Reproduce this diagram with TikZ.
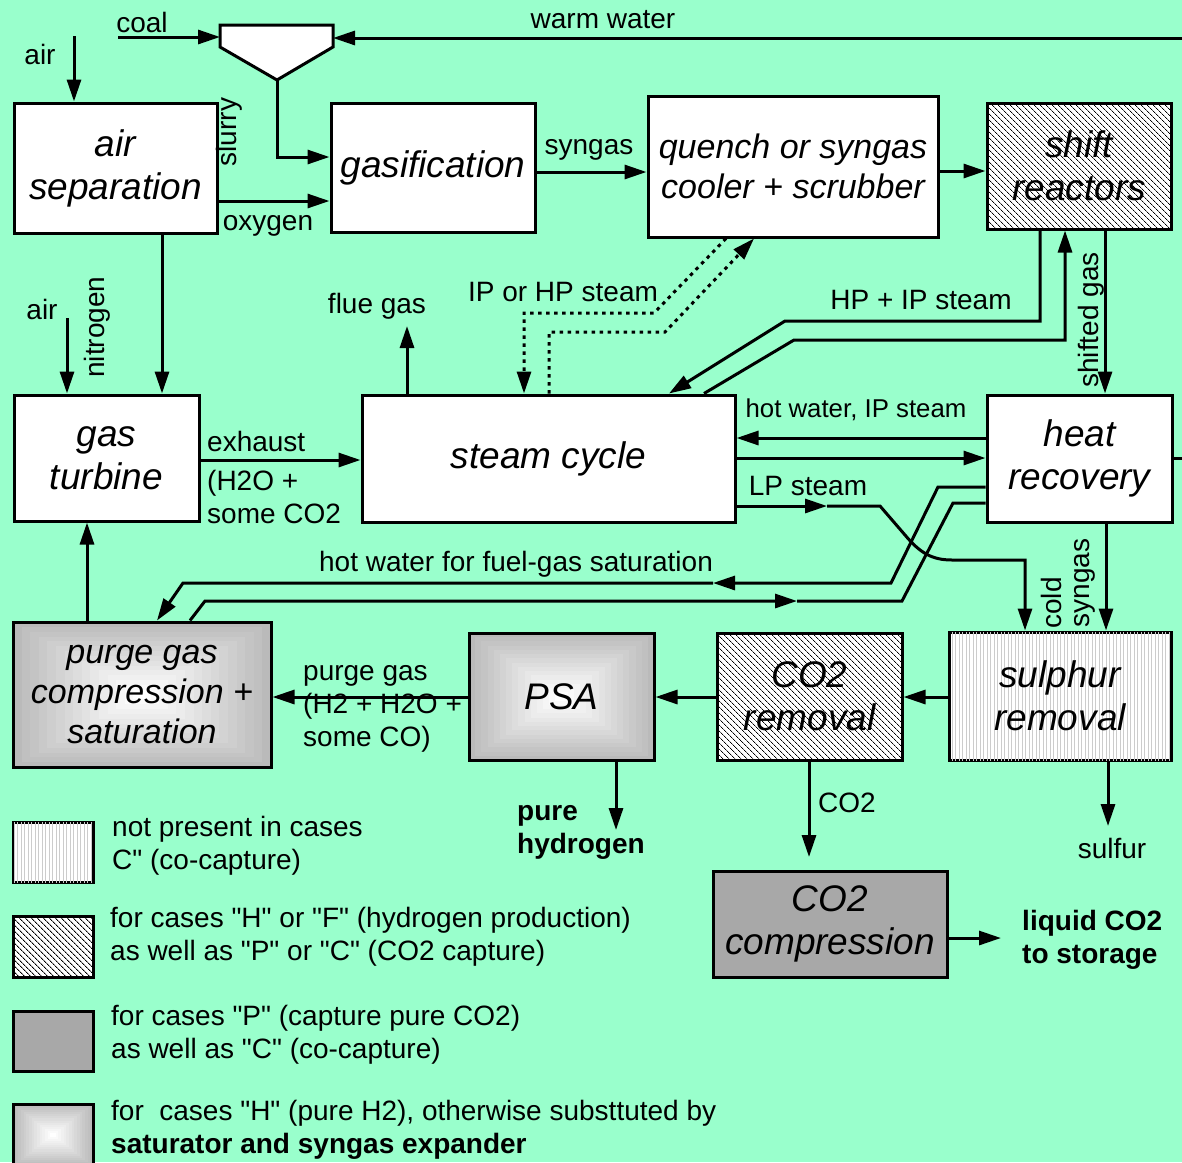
\documentclass[tikz,border=0pt]{standalone}
\usepackage{fontspec}
\setmainfont{Liberation Sans}[Ligatures=TeXOff]
\usetikzlibrary{arrows.meta,patterns.meta}
\definecolor{bg}{RGB}{153,255,204}
\definecolor{gradedge}{RGB}{186,186,186}
\definecolor{dotgray}{RGB}{168,168,168}
\newcommand\boxfont{\fontsize{37}{43}\selectfont\itshape}
\newcommand\smboxfont{\fontsize{34}{40}\selectfont\itshape}
\newcommand\labfont{\fontsize{28}{33}\selectfont}
\newcommand\gradrect[4]{%
  \foreach \k in {0,...,14}{%
    \pgfmathsetmacro\gx{(#3-#1)*\k/30}%
    \pgfmathsetmacro\gy{(#4-#2)*\k/30}%
    \pgfmathtruncatemacro\gp{100-\k*100/14}%
    \fill[gradedge!\gp!white] ({#1+\gx},{#2+\gy}) rectangle ({#3-\gx},{#4-\gy});
  }}
\begin{document}
\begin{tikzpicture}[x=1pt,y=-1pt,
  box/.style={draw, line width=3pt, inner sep=0pt, align=center, font=\boxfont},
  plain/.style={box, fill=white},
  hatchbox/.style={box, fill=white, postaction={pattern={Lines[angle=-45,distance=4pt,line width=0.85pt]}, pattern color=black}},
  stripebox/.style={box, fill=white, postaction={pattern={Lines[angle=90,distance=3.5pt,line width=1pt]}, pattern color=black!20}},
  dotbox/.style={box, fill=dotgray},
  conn/.style={line width=3pt},
  flow/.style={conn, -{Triangle[length=22pt,width=14pt]}},
  dots/.style={flow, dash pattern=on 3.5pt off 4.5pt},
  lab/.style={font=\labfont, inner sep=0pt},
  ]
\useasboundingbox (0,0) rectangle (1182,1162);
\clip (0,0) rectangle (1182,1162);
\fill[bg] (0,0) rectangle (1182,1162);

% boxes
\node[plain, minimum width=203pt, minimum height=130pt] (airsep) at (115.5,168) {air\\separation};
\node[plain, minimum width=204pt, minimum height=129pt] (gasif) at (433,167.5) {gasification};
\node[plain, font=\smboxfont, minimum width=290pt, minimum height=141pt] (quench) at (793,166.5) {quench or syngas\\cooler + scrubber};
\node[hatchbox, minimum width=184pt, minimum height=126pt] (shift) at (1079,166) {shift\\reactors};
\node[plain, minimum width=185pt, minimum height=126pt] (gt) at (106.5,458) {gas\\turbine};
\node[plain, minimum width=373pt, minimum height=127pt] (steam) at (548.5,458.5) {steam cycle};
\node[plain, minimum width=185pt, minimum height=127pt] (hr) at (1079.5,458.5) {heat\\recovery};
\gradrect{13}{622}{271}{767}
\node[box, font=\smboxfont, minimum width=258pt, minimum height=145pt] (purge) at (142,694.5) {purge gas\\compression +\\saturation};
\gradrect{469}{633}{654}{760}
\node[box, minimum width=185pt, minimum height=127pt] (psa) at (561.5,696.5) {PSA};
\node[hatchbox, minimum width=185pt, minimum height=127pt] (co2rem) at (809.5,696.5) {CO2\\removal};
\node[stripebox, minimum width=222pt, minimum height=128pt] (sulph) at (1060,696) {sulphur\\removal};
\node[dotbox, minimum width=234pt, minimum height=106pt] (co2comp) at (830,924) {CO2\\compression};

% hopper
\draw[conn, fill=white] (220,25) -- (333,25) -- (333,47) -- (277,80) -- (220,47) -- cycle;
\coordinate (hopL) at (220,37);
\coordinate (hopR) at (333,38);
\coordinate (hopB) at (277,80);

% connectors
\coordinate (coalin) at (118,37);
\draw[flow] (coalin) -- (hopL);
\coordinate (wwin) at (1184,38);
\draw[flow] (wwin) -- (hopR);
\draw[flow] (hopB) -- (277,157) -- (gasif.west |- 0,157);
\coordinate (airin) at (74,36);
\draw[flow] (airin) -- (airin |- airsep.north);
\draw[flow] (airsep.east |- 0,201) -- (gasif.west |- 0,201);
\draw[flow] (gasif.east |- 0,172) -- (quench.west |- 0,172);
\draw[flow] (quench.east |- 0,171) -- (shift.west |- 0,171);
\draw[flow] (airsep.south -| 162,0) -- (gt.north -| 162,0);
\coordinate (air2in) at (67,318);
\draw[flow] (air2in) -- (air2in |- gt.north);
\draw[flow] (gt.east |- 0,460) -- (steam.west |- 0,460);
\coordinate (flueout) at (407,326);
\draw[flow] (steam.north -| flueout) -- (flueout);
\draw[flow] (shift.south -| 1040,0) -- (1040,321) -- (785,321) -- (steam.north -| 669,0);
\draw[flow] (steam.north -| 704,0) -- (794,340) -- (1065,340) -- (shift.south -| 1065,0);
\draw[dots] (quench.south -| 726,0) -- (654,313) -- (524,313) -- (steam.north -| 524,0);
\draw[dots] (steam.north -| 549,0) -- (549,332) -- (665,332) -- (quench.south -| 754,0);
\draw[flow] (shift.south -| 1105,0) -- (hr.north -| 1105,0);
\draw[flow] (hr.west |- 0,438) -- (steam.east |- 0,438);
\draw[flow] (steam.east |- 0,458) -- (hr.west |- 0,458);
\coordinate (lpmid) at (827,506);
\draw[flow] (steam.east |- lpmid) -- (lpmid);
\draw[flow] (lpmid) -- (880,506) -- (905,535) .. controls (920,553) and (932,560) .. (952,560) -- (1025,560) -- (sulph.north -| 1025,0);
\coordinate (hrout) at (1184,458);
\draw[conn] (hr.east |- hrout) -- (hrout);
\draw[flow] (hr.south -| 1106,0) -- (sulph.north -| 1106,0);
\coordinate (hwmidA) at (713,583);
\draw[flow] (hr.west |- 0,487) -- (938,487) -- (891,583) -- (hwmidA);
\draw[flow] (hwmidA) -- (183,583) -- (purge.north -| 157,0);
\coordinate (hwmidB) at (797,601);
\draw[flow] (purge.north -| 190,0) -- (205,601) -- (hwmidB);
\draw[conn] (hwmidB) -- (902,601) -- (953,503) -- (hr.west |- 0,503);
\draw[flow] (purge.north -| 87,0) -- (gt.south -| 87,0);
\draw[flow] (psa.west |- 0,697) -- (purge.east |- 0,697);
\draw[flow] (co2rem.west |- 0,697) -- (psa.east |- 0,697);
\draw[flow] (sulph.west |- 0,697) -- (co2rem.east |- 0,697);
\coordinate (sout) at (1108,826);
\draw[flow] (sulph.south -| sout) -- (sout);
\coordinate (htwoout) at (616,830);
\draw[flow] (psa.south -| htwoout) -- (htwoout);
\coordinate (cotwoout) at (809,857);
\draw[flow] (co2rem.south -| cotwoout) -- (cotwoout);
\coordinate (liqout) at (1001,938);
\draw[flow] (co2comp.east |- liqout) -- (liqout);

% labels
\node[lab] (lcoal) at (142,22) {coal};
\node[lab] (lww) at (603,20) {warm water};
\node[lab] (lair) at (40,54) {air};
\node[lab, rotate=90] (lslurry) at (229,132) {slurry};
\node[lab] (loxy) at (268,226) {oxygen};
\node[lab] (lsyn) at (589,150) {syngas};
\node[lab] (lipsteam) at (563,292) {IP or HP steam};
\node[lab] (lhpip) at (921,300) {HP + IP steam};
\node[lab] (lflue) at (377,306) {flue gas};
\node[lab] (lairb) at (42,309) {air};
\node[lab, rotate=90] (lnit) at (97,327) {nitrogen};
\node[lab, rotate=90] (lshifted) at (1091,320) {shifted gas};
\node[lab, anchor=west] (lexh) at (207,441) {exhaust};
\node[lab, anchor=west, align=left] (lhtwoo) at (207,497) {(H2O +\\some CO2};
\node[lab, font=\fontsize{25.8}{30}\selectfont] (lhotw) at (856,410) {hot water, IP steam};
\node[lab] (llp) at (808,486) {LP steam};
\node[lab] (lfuel) at (516,564) {hot water for fuel-gas saturation};
\node[lab, rotate=90] (lcold) at (1051,603) {cold};
\node[lab, rotate=90] (lcsyn) at (1085,583) {syngas};
\node[lab, anchor=west, align=left] (lpurge) at (303,709) {purge gas\\(H2 + H2O +\\some CO)};
\node[lab] (lco2) at (847,803) {CO2};
\node[lab, anchor=west, align=left, font=\labfont\bfseries] (lpure) at (517,832) {pure\\hydrogen};
\node[lab] (lsulfur) at (1112,848) {sulfur};
\node[lab, anchor=west, align=left, font=\labfont\bfseries] (lliq) at (1022,940) {liquid CO2\\to storage};

% legend
\node[stripebox, minimum width=80pt, minimum height=60pt] (legA) at (53,852) {};
\node[hatchbox, minimum width=80pt, minimum height=61pt] (legB) at (53,946.5) {};
\node[dotbox, minimum width=80pt, minimum height=60pt] (legC) at (53,1041) {};
\gradrect{13}{1104}{93}{1166}
\node[box, minimum width=80pt, minimum height=62pt] (legD) at (53,1135) {};
\node[lab, anchor=west, align=left] (tA) at (112,846) {not present in cases\\C" (co-capture)};
\node[lab, anchor=west, align=left] (tB) at (110,937) {for cases "H" or "F" (hydrogen production)\\as well as "P" or "C" (CO2 capture)};
\node[lab, anchor=west, align=left] (tC) at (111,1035) {for cases "P" (capture pure CO2)\\as well as "C" (co-capture)};
\node[lab, anchor=west, align=left] (tD) at (111,1130) {for\ \ cases "H" (pure H2), otherwise substtuted by\\\textbf{saturator and syngas expander}};
\end{tikzpicture}
\end{document}
